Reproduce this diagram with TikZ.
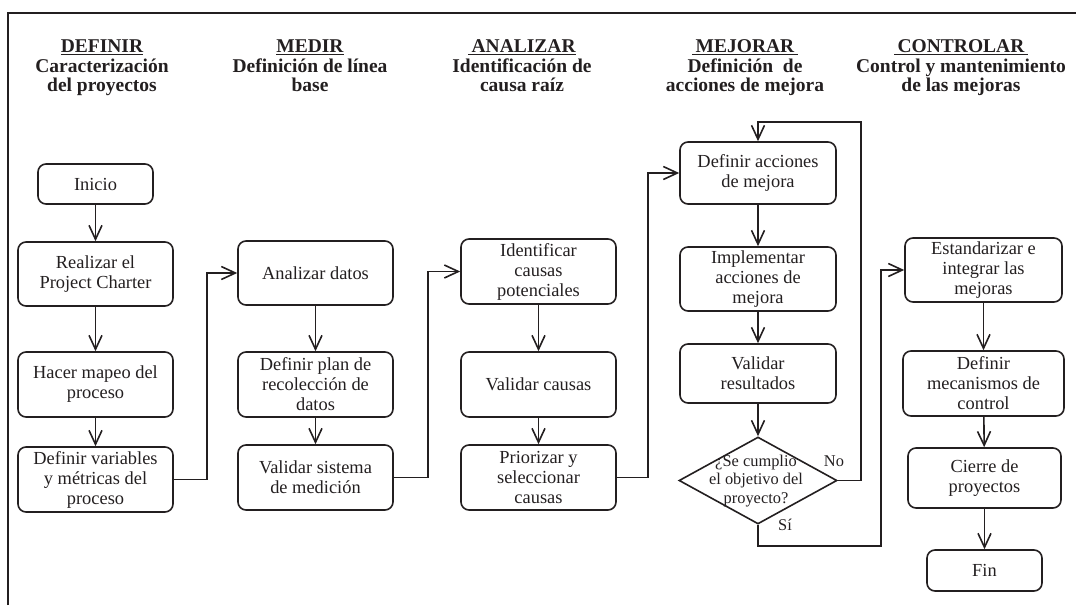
\documentclass[tikz,border=0pt]{standalone}
\usepackage{fontspec}
\setmainfont{Liberation Serif}
\usetikzlibrary{arrows.meta,shapes.geometric,calc}
\definecolor{ink}{HTML}{231F20}
\begin{document}
\begin{tikzpicture}[x=1pt,y=-1pt,line width=1.6pt,
  box/.style={draw=ink, rounded corners=8pt, align=center, inner sep=1pt, text=ink,
    font=\fontsize{18.4}{20}\selectfont},
  arr/.style={draw=ink, -{Straight Barb[length=14pt,width=13pt]}},
  head/.style={align=center, anchor=north, inner sep=0pt, text=ink,
    font=\bfseries\fontsize{19.5}{19.5}\selectfont},
  lbl/.style={inner sep=0pt, text=ink, font=\fontsize{16.4}{18.5}\selectfont}
]
\useasboundingbox (0,0) rectangle (1076,605);
% frame
\coordinate (fa) at (8,605);
\coordinate (fb) at (8,12.7);
\coordinate (fc) at (1076,12.7);
\draw[ink, line width=1.6pt] (fa) -- (fb) -- (fc);

% headers
\node[head] (h1) at (102,39) {\underline{DEFINIR}\\Caracterización\\del proyectos};
\node[head] (h2) at (310,39) {\underline{MEDIR}\\Definición de línea\\base};
\node[head] (h3) at (522,39) {\underline{\,ANALIZAR}\\Identificación de\\causa raíz};
\node[head] (h4) at (745,39) {\underline{\,MEJORAR\,}\\Definición\ \ de\\acciones de mejora};
\node[head] (h5) at (961,39) {\underline{\,CONTROLAR\,}\\Control y mantenimiento\\de las mejoras};

% column 1
\node[box, minimum width=115pt, minimum height=40pt] (inicio) at (95.5,184) {Inicio};
\node[box, minimum width=155pt, minimum height=64pt] (charter) at (95.5,274) {Realizar el\\Project Charter};
\node[box, minimum width=155pt, minimum height=65pt] (mapeo) at (95.5,384.5) {Hacer mapeo del\\proceso};
\node[box, minimum width=155pt, minimum height=65pt] (variables) at (95.5,479.5) {Definir variables\\y métricas del\\proceso};

% column 2
\node[box, minimum width=155pt, minimum height=64pt] (analizar) at (315.5,273) {Analizar datos};
\node[box, minimum width=155pt, minimum height=65pt] (plan) at (315.5,384.5) {Definir plan de\\recolección de\\datos};
\node[box, minimum width=155pt, minimum height=65pt] (sistema) at (315.5,477.5) {Validar sistema\\de medición};

% column 3
\node[box, minimum width=155pt, minimum height=65pt] (identificar) at (538.5,271.5) {Identificar\\causas\\potenciales};
\node[box, minimum width=155pt, minimum height=65pt] (vcausas) at (538.5,384.5) {Validar causas};
\node[box, minimum width=155pt, minimum height=65pt] (priorizar) at (538.5,477.5) {Priorizar y\\seleccionar\\causas};

% column 4
\node[box, minimum width=156pt, minimum height=62pt] (acciones) at (758,173) {Definir acciones\\de mejora};
\node[box, minimum width=156pt, minimum height=64pt] (implementar) at (758,279) {Implementar\\acciones de\\mejora};
\node[box, minimum width=156pt, minimum height=59pt] (resultados) at (758,373.5) {Validar\\resultados};
\node[draw=ink, diamond, inner sep=0pt, minimum width=158pt, minimum height=87pt] (dec) at (758,480.5) {};
\node[lbl, align=center] (dectext) at (756,481) {¿Se cumplio\\el objetivo del\\proyecto?};
\node[lbl] (no) at (834,461) {No};
\node[lbl] (si) at (785,525) {Sí};

% column 5
\node[box, minimum width=157pt, minimum height=64pt] (estandarizar) at (983.5,270) {Estandarizar e\\integrar las\\mejoras};
\node[box, minimum width=161pt, minimum height=65pt] (mecanismos) at (983.5,383.5) {Definir\\mecanismos de\\control};
\node[box, minimum width=153pt, minimum height=60pt] (cierre) at (984.5,478) {Cierre de\\proyectos};
\node[box, minimum width=115pt, minimum height=41pt] (fin) at (984.5,570.5) {Fin};

% connectors
\draw[arr] (inicio) -- (charter);
\draw[arr] (charter) -- (mapeo);
\draw[arr] (mapeo) -- (variables);
\draw[arr] (variables.east) -- ++(33,0) |- (analizar.west);

\draw[arr] (analizar) -- (plan);
\draw[arr] (plan) -- (sistema);
\draw[arr] (sistema.east) -- ++(34,0) |- (identificar.west);

\draw[arr] (identificar) -- (vcausas);
\draw[arr] (vcausas) -- (priorizar);
\draw[arr] (priorizar.east) -- ++(31,0) |- (acciones.west);

\draw[arr] (acciones) -- (implementar);
\draw[arr] (implementar) -- (resultados);
\draw[arr] (resultados.south) -- (dec.north);
\coordinate (loop) at (861,122);
\draw[arr] (dec.east) -| (loop) -| (acciones.north);
\coordinate (sibend) at (881,546);
\draw[arr] (dec.south) |- (sibend) |- (estandarizar.west);

\draw[arr] (estandarizar) -- (mecanismos);
\draw[arr] (mecanismos) -- (cierre);
\draw[arr] (cierre) -- (fin);
\end{tikzpicture}
\end{document}
